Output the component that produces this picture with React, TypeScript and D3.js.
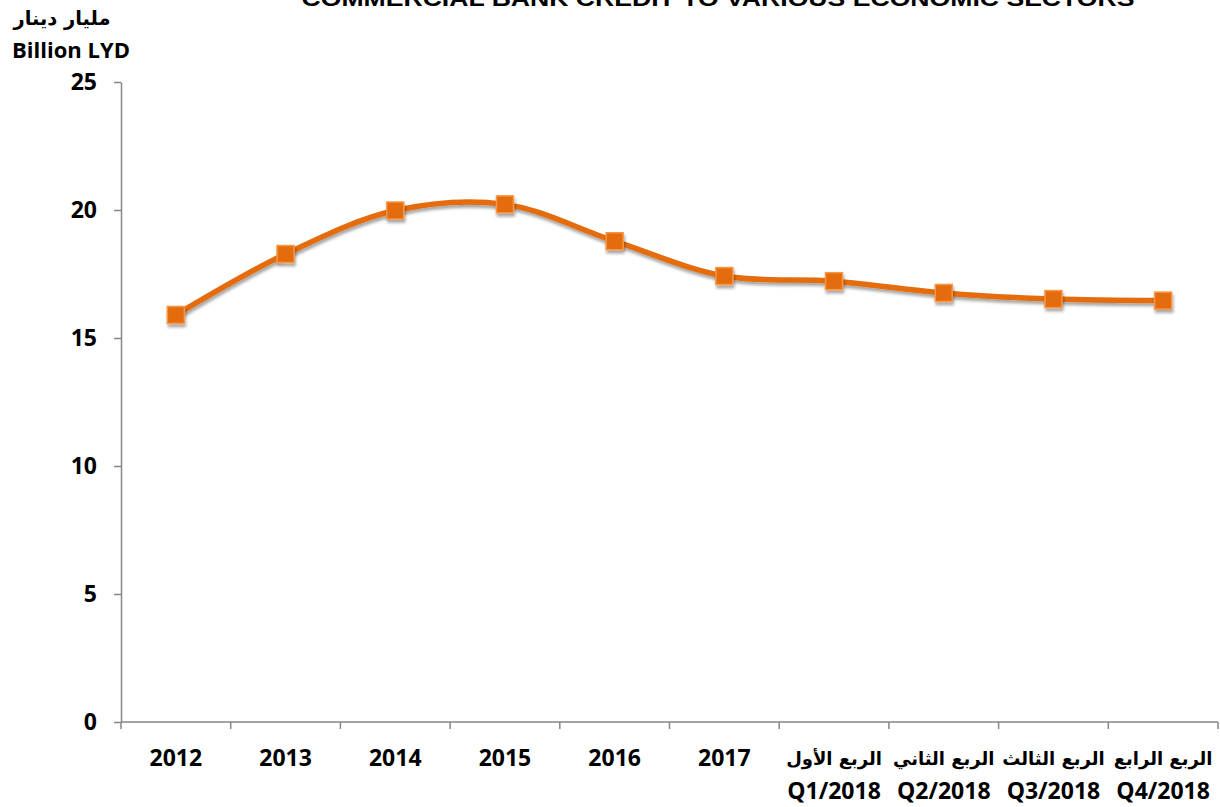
import * as d3 from 'd3';
import { useEffect, useRef } from 'react';

const categories = ['2012', '2013', '2014', '2015', '2016', '2017', 'Q1/2018', 'Q2/2018', 'Q3/2018', 'Q4/2018'];
const arabicLabels = ['', '', '', '', '', '', 'الربع الأول', 'الربع الثاني', 'الربع الثالث', 'الربع الرابع'];
const credit = [15.9, 18.28, 19.98, 20.22, 18.78, 17.42, 17.22, 16.76, 16.52, 16.46];
const yTicks = [0, 5, 10, 15, 20, 25];

const W = 1220;
const H = 807;
const FONT = '"Open Sans", "Liberation Sans", sans-serif';
const AR_FONT = '"DejaVu Sans", sans-serif';

export default function App() {
  const ref = useRef<SVGSVGElement>(null);

  useEffect(() => {
    const svg = d3.select(ref.current);
    svg.selectAll('*').remove();

    const margin = { top: 82, right: 2, bottom: 85, left: 121 };
    const innerWidth = W - margin.left - margin.right;
    const innerHeight = H - margin.top - margin.bottom;

    const x = d3.scaleBand().domain(categories).range([0, innerWidth]);
    const y = d3.scaleLinear().domain([0, 25]).range([innerHeight, 0]);

    const defs = svg.append('defs');
    const f = defs.append('filter').attr('id', 'shadow').attr('x', '-50%').attr('y', '-50%').attr('width', '200%').attr('height', '200%');
    f.append('feDropShadow').attr('dx', 1).attr('dy', 3).attr('stdDeviation', 1.6).attr('flood-color', '#000').attr('flood-opacity', 0.35);

    // title, cut off at the top edge as in the source
    svg.append('text')
      .attr('x', 718)
      .attr('y', 6)
      .attr('text-anchor', 'middle')
      .attr('textLength', 833)
      .attr('lengthAdjust', 'spacingAndGlyphs')
      .style('font-family', '"Liberation Sans", Arial, sans-serif')
      .style('font-weight', 'bold')
      .style('font-size', '22px')
      .text('COMMERCIAL BANK CREDIT TO VARIOUS ECONOMIC SECTORS');

    svg.append('text')
      .attr('x', 62)
      .attr('y', 25)
      .attr('text-anchor', 'middle')
      .style('font-family', AR_FONT)
      .style('font-weight', 'bold')
      .style('font-size', '19.5px')
      .text('مليار دينار');

    svg.append('text')
      .attr('x', 71)
      .attr('y', 58)
      .attr('text-anchor', 'middle')
      .style('font-family', FONT)
      .style('font-weight', 'bold')
      .style('font-size', '22px')
      .text('Billion LYD');

    const g = svg.append('g').attr('transform', `translate(${margin.left},${margin.top})`);

    const yAxis = g.append('g')
      .call(d3.axisLeft(y).tickValues(yTicks).tickSize(7).tickPadding(17).tickSizeOuter(0));
    yAxis.selectAll('line').attr('stroke', '#868686').attr('stroke-width', 1.5);
    yAxis.select('.domain').attr('stroke', '#868686').attr('stroke-width', 1.5);
    yAxis.selectAll('text')
      .attr('fill', '#000')
      .style('font-family', FONT)
      .style('font-weight', 'bold')
      .style('font-size', '23px');

    const xAxis = g.append('g').attr('transform', `translate(0,${innerHeight})`);
    xAxis.append('line').attr('x1', 0).attr('x2', innerWidth).attr('stroke', '#868686').attr('stroke-width', 1.5);
    const bounds = categories.map((c) => x(c) as number).concat([innerWidth]);
    xAxis.selectAll('line.tick')
      .data(bounds)
      .enter()
      .append('line')
      .attr('class', 'tick')
      .attr('x1', (d) => d)
      .attr('x2', (d) => d)
      .attr('y1', 0)
      .attr('y2', 7)
      .attr('stroke', '#868686')
      .attr('stroke-width', 1.5);

    categories.forEach((c, i) => {
      const cx = (x(c) as number) + x.bandwidth() / 2;
      if (arabicLabels[i]) {
        xAxis.append('text')
          .attr('x', cx)
          .attr('y', 43)
          .attr('text-anchor', 'middle')
          .style('font-family', AR_FONT)
          .style('font-weight', 'bold')
          .style('font-size', '18px')
          .text(arabicLabels[i]);
        xAxis.append('text')
          .attr('x', cx)
          .attr('y', 77)
          .attr('text-anchor', 'middle')
          .style('font-family', FONT)
          .style('font-weight', 'bold')
          .style('font-size', '23px')
          .text(c);
      } else {
        xAxis.append('text')
          .attr('x', cx)
          .attr('y', 44)
          .attr('text-anchor', 'middle')
          .style('font-family', FONT)
          .style('font-weight', 'bold')
          .style('font-size', '23px')
          .text(c);
      }
    });

    const pts = categories.map((c, i) => ({ cx: (x(c) as number) + x.bandwidth() / 2, v: credit[i] }));

    const line = d3.line<{ cx: number; v: number }>()
      .x((d) => d.cx)
      .y((d) => y(d.v))
      .curve(d3.curveCatmullRom.alpha(0.5));

    g.append('path')
      .datum(pts)
      .attr('d', line)
      .attr('fill', 'none')
      .attr('stroke', '#E46C0A')
      .attr('stroke-width', 5.5)
      .attr('stroke-linecap', 'round')
      .attr('filter', 'url(#shadow)');

    g.selectAll('rect.marker')
      .data(pts)
      .enter()
      .append('rect')
      .attr('class', 'marker')
      .attr('x', (d) => d.cx - 8.5)
      .attr('y', (d) => y(d.v) - 8.5)
      .attr('width', 17)
      .attr('height', 17)
      .attr('fill', '#E46C0A')
      .attr('stroke', '#F79646')
      .attr('stroke-width', 1.5)
      .attr('filter', 'url(#shadow)');
  }, []);

  return (
    <svg
      ref={ref}
      width={W}
      height={H}
      style={{ position: 'absolute', left: 0, top: 0, background: '#fff' }}
      role="img"
      aria-label="Commercial bank credit to various economic sectors"
    />
  );
}
